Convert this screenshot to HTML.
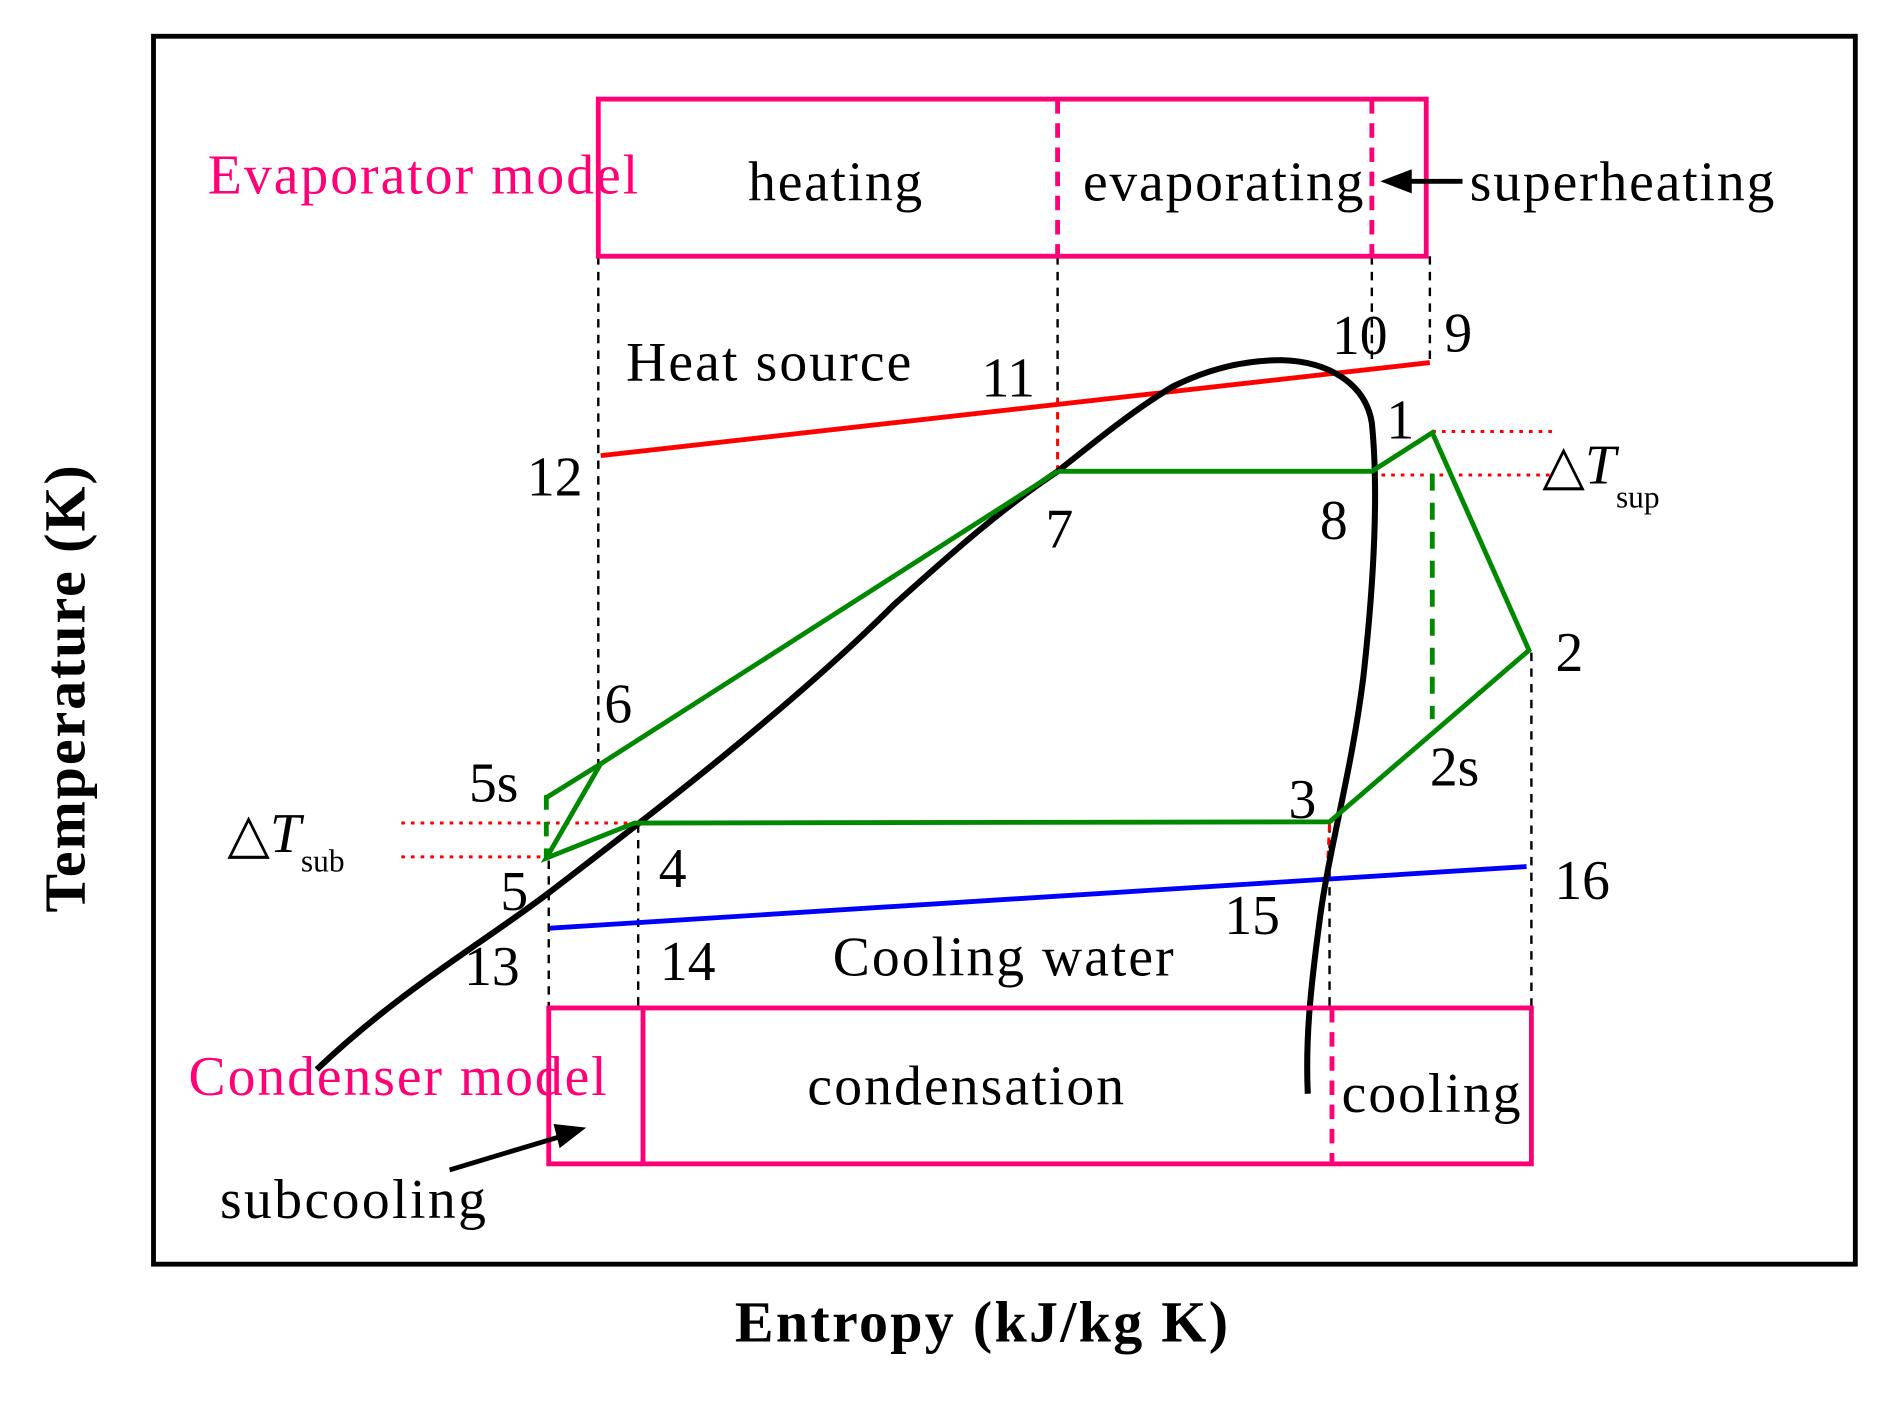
<!DOCTYPE html>
<html><head><meta charset="utf-8"><style>
html,body{margin:0;padding:0;background:#fff;}
svg{display:block;}
text{font-family:"Liberation Serif",serif;}
</style></head><body>
<svg width="1894" height="1408" viewBox="0 0 1567 1165" preserveAspectRatio="none" xmlns="http://www.w3.org/2000/svg">
<rect x="127" y="30" width="1408" height="1016" fill="none" stroke="#000" stroke-width="4"/>
<g stroke="#000" stroke-width="2" stroke-dasharray="7,6" fill="none">
<line x1="495" y1="212" x2="495" y2="632"/>
<line x1="875" y1="212" x2="875" y2="330"/>
<line x1="1135" y1="212" x2="1135" y2="300"/>
<line x1="1183" y1="212" x2="1183" y2="300"/>
<line x1="1267" y1="540" x2="1267" y2="834"/>
<line x1="454" y1="712" x2="454" y2="880"/>
<line x1="528" y1="682" x2="528" y2="834"/>
<line x1="1100" y1="682" x2="1100" y2="834"/>
</g>
<g stroke="#f00" stroke-width="2.5" stroke-dasharray="3,5" fill="none">
<line x1="332" y1="681" x2="525" y2="681"/>
<line x1="332" y1="709" x2="452" y2="709"/>
<line x1="1185" y1="357" x2="1285" y2="357"/>
<line x1="1135" y1="393" x2="1285" y2="393"/>
<line x1="875" y1="330" x2="875" y2="388" stroke-dasharray="6,5"/>
<line x1="1100" y1="682" x2="1098" y2="725" stroke-dasharray="6,5"/>
</g>
<line x1="497" y1="377" x2="1183" y2="300" stroke="#f00" stroke-width="4"/>
<line x1="455" y1="768" x2="1263" y2="717" stroke="#00f" stroke-width="4"/>
<path d="M262,885 C330,820 400,780 455,738 C520,688 650,590 740,500 C790,455 830,420 875,390 C910,362 940,338 970,320 C1000,305 1030,298 1060,298 C1100,299 1130,318 1135,350 C1140,400 1138,470 1128,560 C1118,640 1100,700 1092,760 C1084,820 1080,860 1082,905" fill="none" stroke="#000" stroke-width="5"/>
<g stroke="#080" stroke-width="4" fill="none">
<polyline points="875,390 1135,390 1185,358 1265,538 1100,680 525,681 452,710 497,632 875,390"/>
<line x1="452" y1="660" x2="497" y2="632"/>
<line x1="452" y1="658" x2="452" y2="710" stroke-dasharray="12,10"/>
<line x1="1185" y1="392" x2="1185" y2="595" stroke-dasharray="14,10"/>
</g>
<g stroke="#f07" stroke-width="4" fill="none">
<rect x="495" y="82" width="685" height="130"/>
<rect x="454" y="834" width="813" height="129"/>
<line x1="532" y1="834" x2="532" y2="963"/>
<line x1="875" y1="82" x2="875" y2="212" stroke-dasharray="12,8"/>
<line x1="1135" y1="82" x2="1135" y2="212" stroke-dasharray="12,8"/>
<line x1="1102" y1="834" x2="1102" y2="963" stroke-dasharray="12,8"/>
</g>
<line x1="1210" y1="150" x2="1165" y2="150" stroke="#000" stroke-width="4"/>
<polygon points="1142,150 1168,140 1168,160" fill="#000"/>
<line x1="372" y1="968" x2="465" y2="940" stroke="#000" stroke-width="4"/>
<polygon points="485,933 458,930 463,950" fill="#000"/>
<g font-size="46" fill="#000">
<text x="172" y="160" fill="#f07" textLength="356">Evaporator model</text>
<text x="619" y="166" textLength="144">heating</text>
<text x="896" y="166" textLength="232">evaporating</text>
<text x="1216" y="166" textLength="252">superheating</text>
<text x="518" y="315" textLength="236">Heat source</text>
<text x="812" y="328">11</text>
<text x="1102" y="293">10</text>
<text x="1195" y="291">9</text>
<text x="1147" y="363">1</text>
<text x="436" y="410">12</text>
<text x="865" y="453">7</text>
<text x="1092" y="446">8</text>
<text x="1287" y="555">2</text>
<text x="500" y="598">6</text>
<text x="1183" y="650">2s</text>
<text x="388" y="663">5s</text>
<text x="1066" y="677">3</text>
<text x="545" y="734">4</text>
<text x="414" y="753">5</text>
<text x="1286" y="744">16</text>
<text x="1013" y="773">15</text>
<text x="384" y="815">13</text>
<text x="546" y="811">14</text>
<text x="689" y="807" textLength="282">Cooling water</text>
<text x="156" y="906" fill="#f07" textLength="346">Condenser model</text>
<text x="668" y="914" textLength="262">condensation</text>
<text x="1110" y="920" textLength="148">cooling</text>
<text x="182" y="1008" textLength="220">subcooling</text>
<text x="188" y="705">△<tspan font-style="italic">T</tspan><tspan font-size="26" dy="16">sub</tspan></text>
<text x="1276" y="400">△<tspan font-style="italic">T</tspan><tspan font-size="26" dy="20">sup</tspan></text>
</g>
<text x="608" y="1110" font-size="48" font-weight="bold" textLength="408">Entropy  (kJ/kg K)</text>
<text transform="translate(70,755) rotate(-90)" font-size="48" font-weight="bold" textLength="370">Temperature (K)</text>
</svg>
</body></html>
